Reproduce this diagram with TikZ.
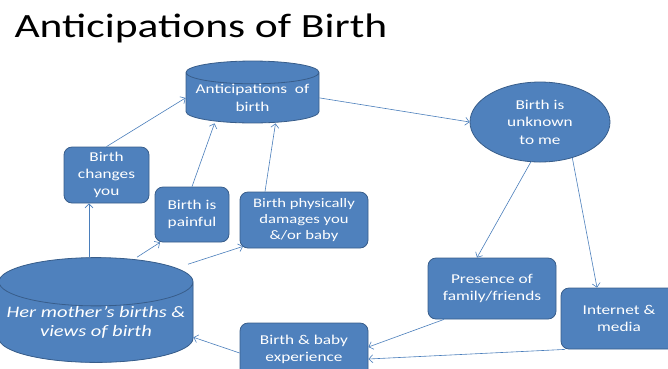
\documentclass[tikz,border=0pt]{standalone}
\usepackage{fontspec}
\setmainfont[FakeStretch=1.28]{Carlito}
\usepackage{xcolor}
\usepackage{tikz}
\usetikzlibrary{arrows.meta, positioning, shapes.geometric, calc}
\definecolor{boxblue}{HTML}{4F81BD}
\definecolor{boxline}{HTML}{385D8A}
\definecolor{linkblue}{HTML}{4A7EBB}
\definecolor{capblue}{HTML}{95B3D7}
\tikzset{
  box/.style={rectangle, rounded corners=8pt, draw=boxline, fill=boxblue, line width=0.8pt,
    text=white, align=center, inner sep=0pt, font=\fontsize{13.5}{17}\selectfont},
  drum/.style={cylinder, shape border rotate=90, anchor=shape center, draw=boxline, fill=boxblue, line width=0.8pt,
    text=white, align=center, inner sep=0pt, font=\fontsize{13.5}{18}\selectfont},
  link/.style={draw=linkblue, line width=0.6pt, -{Straight Barb[length=4pt,width=8pt]}},
}

\begin{document}
\begin{tikzpicture}[x=1pt, y=-1pt]
			\path [use as bounding box, clip] (0,0) rectangle (668,368);
			\node [anchor=base west, font=\fontsize{34}{40}\selectfont] (title) at (11,37) {Anticipations of Birth};
			% anticipations and what shapes them
			\node [drum, minimum width=133pt, minimum height=60pt, aspect=0.2] (antic) at (252.5,92) {Anticipations \ of\\birth};
			\node [box, minimum width=85pt, minimum height=56pt] (changes) at (106.5,175) {Birth\\changes\\you};
			\node [box, minimum width=74pt, minimum height=55pt] (painful) at (192,214.5) {Birth is\\painful};
			\node [box, minimum width=128pt, minimum height=56pt, font=\fontsize{13}{16}\selectfont] (damages) at (304,220) {Birth physically\\damages you\\\&/or baby};
			\node [ellipse, draw=boxline, fill=boxblue, line width=0.8pt, text=white, align=center, inner sep=0pt,
				minimum width=140pt, minimum height=80pt, font=\fontsize{13.5}{17.5}\selectfont] (unknown) at (540,122) {Birth is\\unknown\\to me};
			\node [drum, minimum width=194pt, minimum height=94pt, aspect=0.27,
				cylinder uses custom fill, cylinder body fill=boxblue, cylinder end fill=capblue,
				font=\fontsize{16}{19}\selectfont\itshape] (mother) at (96,310) {Her mother’s births \&\\views of birth};
			\node [box, minimum width=128pt, minimum height=61pt] (presence) at (492,288.5) {Presence of\\family/friends};
			\node [box, minimum width=116pt, minimum height=61pt] (internet) at (619,318.5) {Internet \&\\media};
			\node [box, minimum width=128pt, minimum height=54pt, text depth=4pt] (bbexp) at (304,350) {Birth \& baby\\experience};
			% connectors
			\draw [link] (changes.north) to (antic.west);
			\draw [link] (painful.north) to ([xshift=-38pt]antic.south);
			\draw [link] ([xshift=-39pt]damages.north) to ([xshift=23pt]antic.south);
			\draw [link] (antic.east) to (unknown.west);
			\draw [link] (unknown.257) to ([xshift=-15pt]presence.north);
			\draw [link] (unknown.312) to ([xshift=-22pt]internet.north);
			\draw [link] ([xshift=-7pt]mother.north) to ([xshift=-17.5pt]changes.south);
			\draw [link] ([xshift=41pt]mother.north) to ([xshift=-32pt]painful.south);
			\draw [link] ([xshift=92pt,yshift=-7pt]mother.north) to ([xshift=-61pt,yshift=2pt]damages.south);
			\draw [link] ([yshift=-3pt]bbexp.west) to ([yshift=-15pt]mother.east);
			\draw [link] ([xshift=-48pt]presence.south) to ([yshift=3pt]bbexp.east);
			\draw [link] ([xshift=-54pt]internet.south) to ([yshift=-9pt]bbexp.east);
		\end{tikzpicture}
\end{document}
